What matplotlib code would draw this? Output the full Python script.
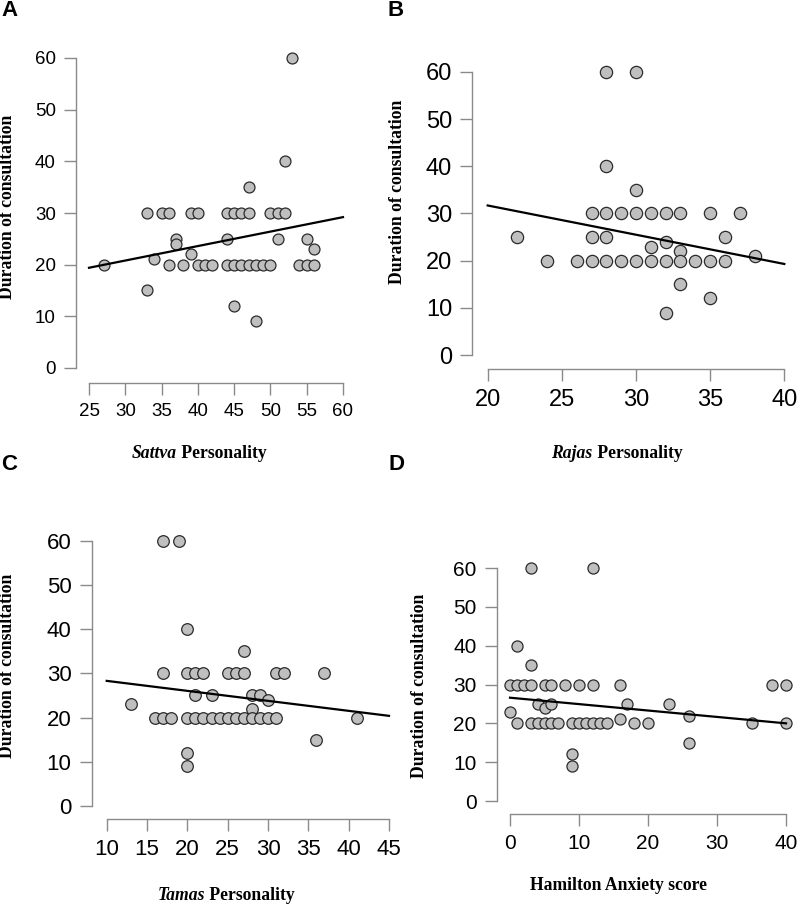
import numpy as np
import matplotlib
matplotlib.use("Agg")
import matplotlib.pyplot as plt

# data
sattva_x = [27, 33, 33, 34, 35, 36, 36, 37, 37, 38, 39, 39, 40, 40, 41, 42, 44, 44, 44, 45, 45,
            45, 46, 46, 47, 47, 47, 48, 48, 49, 50, 50, 51, 51, 52, 52, 53, 54, 55, 55, 56, 56]
sattva_y = [20, 30, 15, 21, 30, 30, 20, 25, 24, 20, 30, 22, 30, 20, 20, 20, 30, 25, 20, 30, 20,
            12, 30, 20, 30, 35, 20, 20, 9, 20, 30, 20, 30, 25, 30, 40, 60, 20, 25, 20, 23, 20]

rajas_x = [22, 24, 26, 27, 27, 27, 28, 28, 28, 28, 28, 29, 29, 30, 30, 30, 30, 31, 31, 31, 32, 32,
           32, 32, 33, 33, 33, 33, 34, 35, 35, 35, 36, 36, 37, 38]
rajas_y = [25, 20, 20, 30, 25, 20, 60, 40, 30, 25, 20, 30, 20, 60, 35, 30, 20, 30, 23, 20, 30, 24,
           20, 9, 30, 22, 20, 15, 20, 30, 20, 12, 25, 20, 30, 21]

tamas_x = [13, 16, 17, 17, 17, 18, 19, 20, 20, 20, 20, 20, 21, 21, 21, 22, 22, 23, 23, 24, 25, 25,
           26, 26, 27, 27, 27, 28, 28, 28, 29, 29, 30, 30, 31, 31, 32, 36, 37, 41]
tamas_y = [23, 20, 60, 30, 20, 20, 60, 40, 30, 20, 12, 9, 30, 25, 20, 30, 20, 25, 20, 20, 30, 20,
           30, 20, 35, 30, 20, 25, 22, 20, 25, 20, 24, 20, 30, 20, 30, 15, 30, 20]

ham_x = [0, 0, 1, 1, 1, 2, 3, 3, 3, 3, 4, 4, 5, 5, 5, 6, 6, 6, 7, 8, 9, 9, 9, 10, 10, 11, 12, 12,
         12, 13, 14, 16, 16, 17, 18, 20, 23, 26, 26, 35, 38, 40, 40]
ham_y = [30, 23, 40, 30, 20, 30, 60, 35, 30, 20, 25, 20, 30, 24, 20, 30, 25, 20, 20, 30, 20, 12, 9,
         30, 20, 20, 60, 30, 20, 20, 20, 30, 21, 25, 20, 20, 25, 22, 15, 20, 30, 30, 20]

# fitted lines (intercept, slope) as drawn
fit_sattva = (12.4, 0.28)
fit_rajas = (44.1, -0.62)
fit_tamas = (30.56, -0.226)
fit_ham = (26.6, -0.165)

yticks = [0, 10, 20, 30, 40, 50, 60]
xticks_sattva = [25, 30, 35, 40, 45, 50, 55, 60]
xticks_rajas = [20, 25, 30, 35, 40]
xticks_tamas = [10, 15, 20, 25, 30, 35, 40, 45]
xticks_ham = [0, 10, 20, 30, 40]

W, H = 800, 905
fig = plt.figure(figsize=(W / 100, H / 100), dpi=100)

SANS = "Liberation Sans"
SERIF = "Liberation Serif"
GREY = "#8a8a8a"
LABEL_SIZE = 12.7


def fx(px):
    return px / W


def fy(py):
    return 1 - py / H


def panel(x, y, fit, xticks, lay, tsize, msize):
    # lay: pixel positions of first/last x tick, y=0 and y=60, and spines
    px0, px1, py0, py1, sx, sy = lay
    x0, x1 = xticks[0], xticks[-1]
    kx = (px1 - px0) / (x1 - x0)
    ky = (py0 - py1) / 60.0
    right, top = px1 + 14, py1 - 12
    ax = fig.add_axes([fx(sx), fy(sy), (right - sx) / W, (sy - top) / H])
    ax.set_xlim(x0 - (px0 - sx) / kx, x1 + (right - px1) / kx)
    ax.set_ylim(0 - (sy - py0) / ky, 60 + (py1 - top) / ky)
    ax.scatter(x, y, s=msize, facecolor="#bfbfbf", edgecolor="#2b2b2b", linewidth=0.9, zorder=2)
    xx = np.array([x0, x1])
    ax.plot(xx, fit[0] + fit[1] * xx, color="black", lw=1.6, zorder=3)
    for side in ("top", "right"):
        ax.spines[side].set_visible(False)
    ax.spines["left"].set_bounds(0, 60)
    ax.spines["bottom"].set_bounds(x0, x1)
    for side in ("left", "bottom"):
        ax.spines[side].set_color(GREY)
        ax.spines[side].set_linewidth(1.0)
    ax.set_xticks(xticks)
    ax.set_yticks(yticks)
    ax.tick_params(length=8.5, width=1.0, color=GREY, labelsize=tsize, pad=6)
    for lab in ax.get_xticklabels() + ax.get_yticklabels():
        lab.set_fontfamily(SANS)
    ax.patch.set_alpha(0)
    return ax


panel(sattva_x, sattva_y, fit_sattva, xticks_sattva, (89, 343, 368, 58, 76, 383), 13.5, 62)
panel(rajas_x, rajas_y, fit_rajas, xticks_rajas, (487.7, 784.3, 355, 72, 472.3, 369), 17, 78)
panel(tamas_x, tamas_y, fit_tamas, xticks_tamas, (106.7, 389, 806, 540.7, 91.7, 819), 16, 70)
panel(ham_x, ham_y, fit_ham, xticks_ham, (510, 786, 801, 568, 496.7, 814), 15, 64)

# y labels
for cx, cy in [(8, 207), (397, 192), (8, 666), (419, 686)]:
    fig.text(fx(cx), fy(cy), "Duration of consultation", rotation=90, ha="center", va="center",
             family=SERIF, weight="bold", fontsize=LABEL_SIZE)

# x labels, part italic
renderer = fig.canvas.get_renderer()
for it, rest, cx, cy in [("Sattva", " Personality", 199, 453), ("Rajas", " Personality", 617, 453),
                         ("Tamas", " Personality", 226, 895), ("", "Hamilton Anxiety score", 618, 885)]:
    t1 = fig.text(0, fy(cy), it, ha="left", va="center", family=SERIF, weight="bold",
                  style="italic", fontsize=LABEL_SIZE)
    t2 = fig.text(0, fy(cy), rest, ha="left", va="center", family=SERIF, weight="bold",
                  fontsize=LABEL_SIZE)
    w1 = t1.get_window_extent(renderer).width if it else 0
    w2 = t2.get_window_extent(renderer).width
    start = cx - (w1 + w2) / 2
    t1.set_x(fx(start))
    t2.set_x(fx(start + w1))

# panel letters
for letter, cx, cy in [("A", 9, 10), ("B", 396, 10), ("C", 9, 464), ("D", 396, 464)]:
    fig.text(fx(cx), fy(cy), letter, ha="center", va="center", family=SANS, weight="bold",
             fontsize=16)

fig.savefig("out.png", dpi=100)
